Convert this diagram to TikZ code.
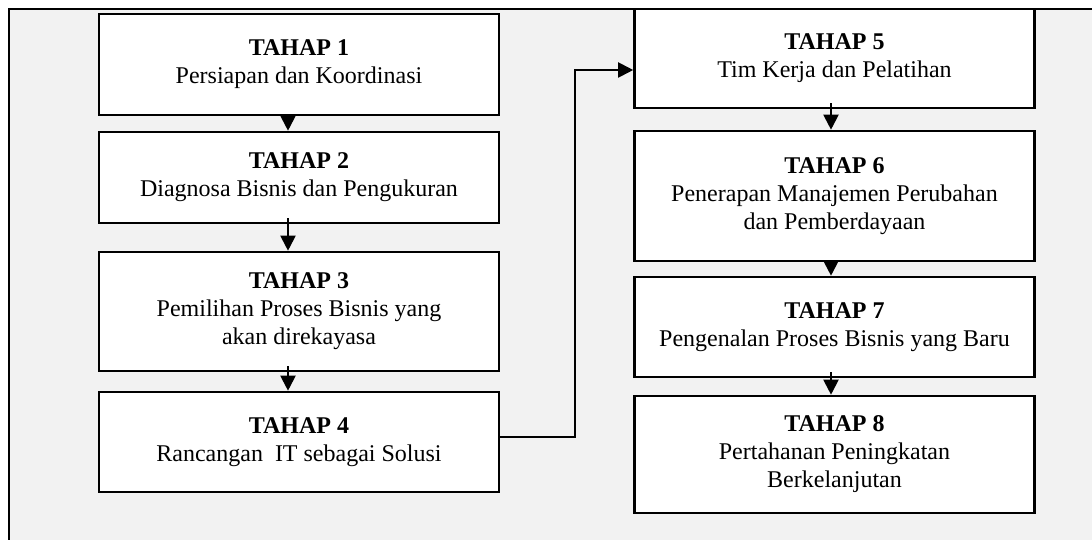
\documentclass[tikz,border=0pt]{standalone}
\usepackage{fontspec}
\setmainfont{Liberation Serif}
\usetikzlibrary{arrows.meta,positioning}
\definecolor{panelgrey}{HTML}{F2F2F2}

\begin{document}
\begin{tikzpicture}[x=0.5pt,y=-0.5pt,
    tahap/.style={draw, line width=1.3pt, fill=white, minimum width=200pt,
        align=center, inner sep=0pt, font=\fontsize{12}{14}\selectfont},
    alur/.style={-{Triangle[length=7.5pt,width=7.5pt]}, line width=1pt}]
            \useasboundingbox (0,0) rectangle (1092,540);
            \clip (0,0) rectangle (1092,540);
            % Grey panel behind all the steps
            \filldraw[fill=panelgrey, line width=0.8pt] (9,9) rectangle (1120,570);

            % Left column: TAHAP 1 to TAHAP 4
            \node[tahap, minimum height=50.5pt] (t1) at (299,64.5) {\textbf{TAHAP 1}\\Persiapan dan Koordinasi};
            \node[tahap, minimum height=45.5pt] (t2) at (299,177.5) {\textbf{TAHAP 2}\\Diagnosa Bisnis dan Pengukuran};
            \node[tahap, minimum height=59.5pt] (t3) at (299,311.5) {\textbf{TAHAP 3}\\Pemilihan Proses Bisnis yang\\akan direkayasa};
            \node[tahap, minimum height=50pt] (t4) at (299,442) {\textbf{TAHAP 4}\\Rancangan\ \ IT sebagai Solusi};

            % Right column: TAHAP 5 to TAHAP 8
            \node[tahap, minimum height=49.5pt] (t5) at (834.5,58.5) {\textbf{TAHAP 5}\\Tim Kerja dan Pelatihan};
            \node[tahap, minimum height=65pt] (t6) at (834.5,196) {\textbf{TAHAP 6}\\Penerapan Manajemen Perubahan\\dan Pemberdayaan};
            \node[tahap, minimum height=50pt] (t7) at (834.5,327) {\textbf{TAHAP 7}\\Pengenalan Proses Bisnis yang Baru};
            \node[tahap, minimum height=58.5pt] (t8) at (834.5,454.5) {\textbf{TAHAP 8}\\Pertahanan Peningkatan\\Berkelanjutan};

            % Arrows down each column
            \foreach \a/\b in {t1/t2,t2/t3,t3/t4} {
                \draw[alur, shorten <=-3pt] ([xshift=-5.5pt]\a.south) -- ([xshift=-5.5pt]\b.north);
            }
            \foreach \a/\b in {t5/t6,t6/t7,t7/t8} {
                \draw[alur, shorten <=-3pt] ([xshift=-1.75pt]\a.south) -- ([xshift=-1.75pt]\b.north);
            }

            % From TAHAP 4 over to TAHAP 5
            \draw[alur] ([yshift=2.5pt]t4.east) -- ++(75,0) |- ([yshift=-5.75pt]t5.west);
\end{tikzpicture}
\end{document}
